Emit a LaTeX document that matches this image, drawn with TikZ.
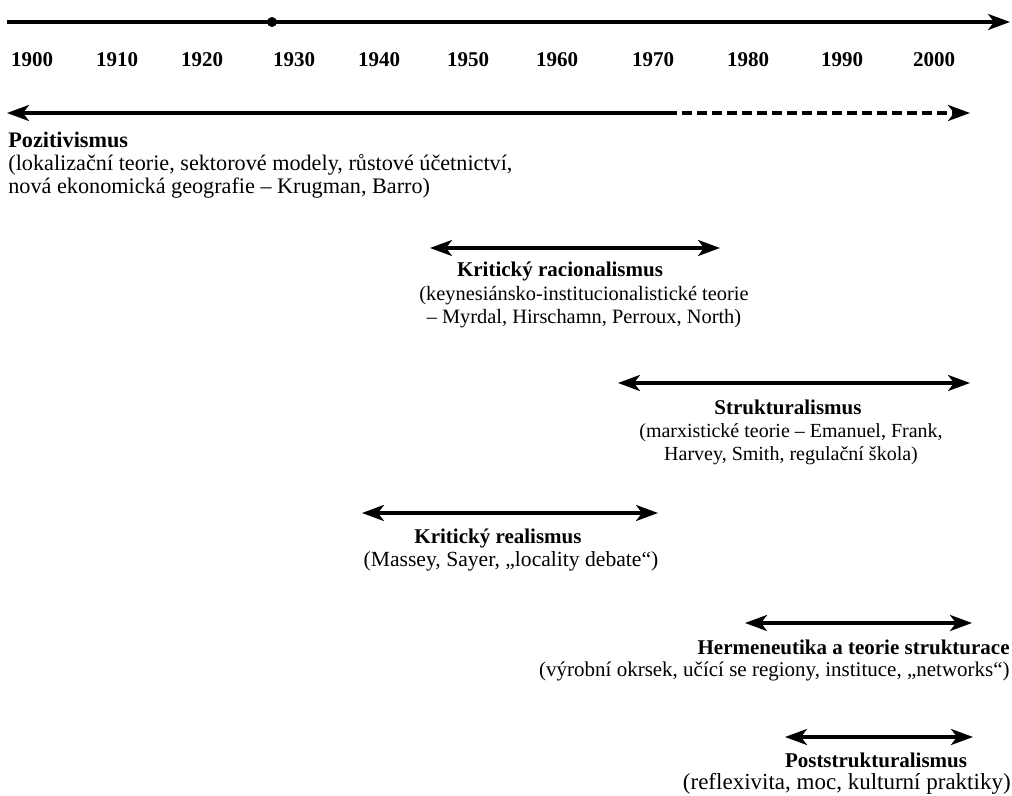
\documentclass[tikz,border=0pt]{standalone}
\usepackage{fontspec}
\setmainfont{Liberation Serif}
\usetikzlibrary{arrows.meta}
\newcommand{\fsz}[1]{\fontsize{#1}{11.4}\selectfont}

\begin{document}
\begin{tikzpicture}[x=0.5pt,y=-0.5pt,
  period/.style={line width=1.6pt,{Stealth[length=11pt,width=8pt,inset=3pt]}-{Stealth[length=11pt,width=8pt,inset=3pt]}},
  yearlabel/.style={inner sep=0pt,font=\fsz{10.5}\bfseries},
  school/.style={inner sep=0pt,font=\fsz{10.5}\bfseries},
  desc/.style={inner sep=0pt,align=center}]
\useasboundingbox (0,0) rectangle (1012,796);

% time axis
\coordinate (axL) at (7,22);
\coordinate (axR) at (1010,22);
\draw[line width=1.6pt,-{Stealth[length=11pt,width=8pt,inset=3pt]}] (axL) -- (axR);
\fill (272,22) circle (5);
\foreach \yr/\xp in {1900/32,1910/117,1920/202,1930/294,1940/379,1950/468,
                     1960/557,1970/653,1980/748,1990/842,2000/934}
  \node[yearlabel] (y\yr) at (\xp,60) {\yr};

% Pozitivismus
\coordinate (pozL) at (7,113);
\coordinate (pozM) at (667,113);
\coordinate (pozR) at (970,113);
\draw[line width=1.6pt,{Stealth[length=11pt,width=8pt,inset=3pt]}-] (pozL) -- (pozM);
\draw[line width=1.6pt,dash pattern=on 5pt off 2.5pt,-{Stealth[length=11pt,width=8pt,inset=3pt]}] (pozM) -- (pozR);
\node[desc,align=left,anchor=north west,font=\fsz{11.1}] (poz) at (8,132)
  {\textbf{Pozitivismus}\\(lokalizační teorie, sektorové modely, růstové účetnictví,\\nová ekonomická geografie – Krugman, Barro)};

% Kriticky racionalismus
\coordinate (racL) at (430,248);
\coordinate (racR) at (720,248);
\draw[period] (racL) -- (racR);
\node[school] (racT) at (560,271) {Kritický racionalismus};
\node[desc,anchor=north,font=\fsz{10.2}] (racD) at (584,286)
  {(keynesiánsko-institucionalistické teorie\\– Myrdal, Hirschamn, Perroux, North)};

% Strukturalismus
\coordinate (strL) at (618,383);
\coordinate (strR) at (970,383);
\draw[period] (strL) -- (strR);
\node[school] (strT) at (788,407) {Strukturalismus};
\node[desc,anchor=north,font=\fsz{10}] (strD) at (791,423)
  {(marxistické teorie – Emanuel, Frank,\\Harvey, Smith, regulační škola)};

% Kriticky realismus
\coordinate (reaL) at (362,513);
\coordinate (reaR) at (658,513);
\draw[period] (reaL) -- (reaR);
\node[school] (reaT) at (498,538) {Kritický realismus};
\node[desc,font=\fsz{10.8}] (reaD) at (511,561) {(Massey, Sayer, „locality debate“)};

% Hermeneutika
\coordinate (herL) at (745,623);
\coordinate (herR) at (972,623);
\draw[period] (herL) -- (herR);
\node[school,anchor=east] (herT) at (1010,647) {Hermeneutika a teorie strukturace};
\node[desc,anchor=east,font=\fsz{10.5}] (herD) at (1010,671)
  {(výrobní okrsek, učící se regiony, instituce, „networks“)};

% Poststrukturalismus
\coordinate (posL) at (785,737);
\coordinate (posR) at (973,737);
\draw[period] (posL) -- (posR);
\node[school] (posT) at (876,760) {Poststrukturalismus};
\node[desc,anchor=east,font=\fsz{11.5}] (posD) at (1011,784)
  {(reflexivita, moc, kulturní praktiky)};
\end{tikzpicture}
\end{document}
